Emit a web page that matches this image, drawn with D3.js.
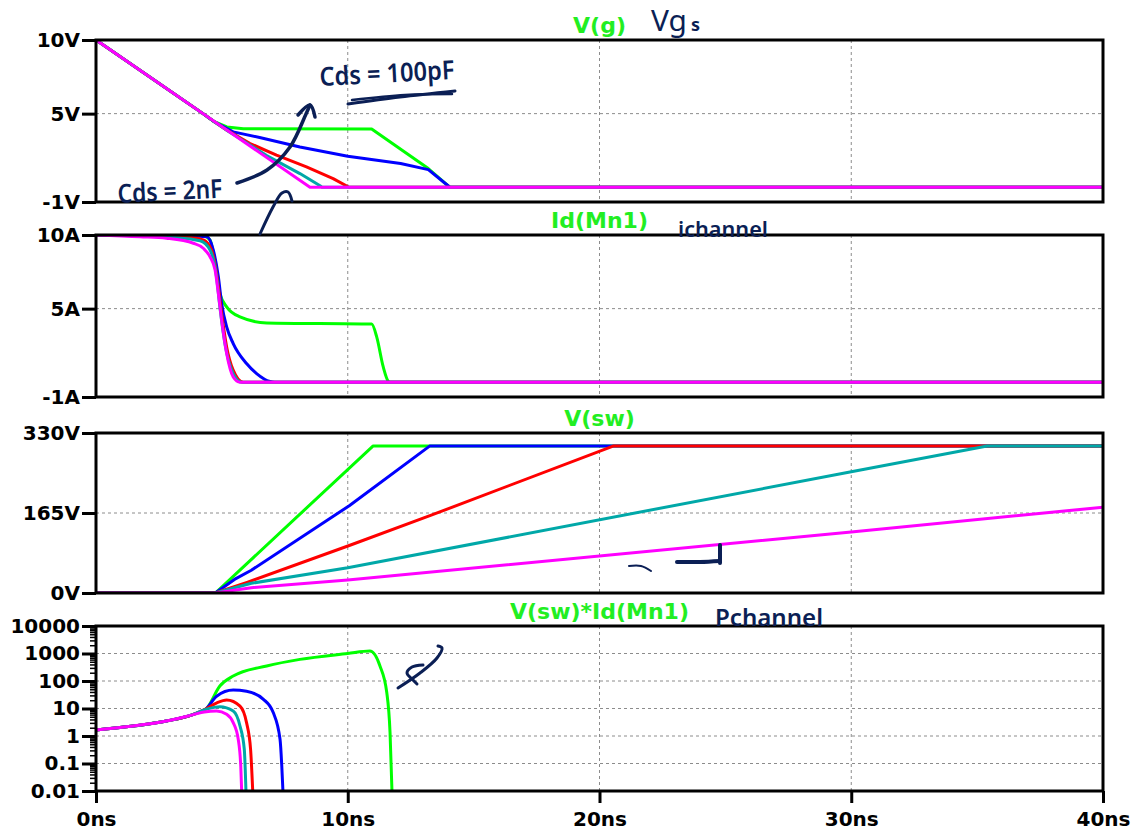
<!DOCTYPE html>
<html>
<head>
<meta charset="utf-8">
<script src="https://cdn.jsdelivr.net/npm/d3@7"></script>
<style>
  body { margin: 0; background: #fff; }
  text { font-family: "DejaVu Sans", Verdana, sans-serif; }
</style>
</head>
<body>
<script>
// traces, drawn in this order (magenta ends up on top)
const seriesKeys = ["green", "blue", "red", "cyan", "magenta"];
const seriesColors = ["#00ff00", "#0000ff", "#ff0000", "#00a8a8", "#ff00ff"];

const timeTicks = [0, 10, 20, 30, 40];
const timeLabels = ["0ns", "10ns", "20ns", "30ns", "40ns"];
const panelTitles = ["V(g)", "Id(Mn1)", "V(sw)", "V(sw)*Id(Mn1)"];

const vgTicks = [-1, 5, 10];
const vgLabels = ["-1V", "5V", "10V"];
const idTicks = [-1, 5, 10];
const idLabels = ["-1A", "5A", "10A"];
const swTicks = [0, 165, 330];
const swLabels = ["0V", "165V", "330V"];
const pTicks = [0.01, 0.1, 1, 10, 100, 1000, 10000];
const pLabels = ["0.01", "0.1", "1", "10", "100", "1000", "10000"];

// V(g) [ns, V]
const vgGreen = [[0,10],[4.25,5],[4.7,4.45],[5.2,4.1],[5.85,3.97],[10.95,3.95],[13.2,1.27],[14.06,0],[40,0]];
const vgBlue = [[0,10],[4.25,5],[4.7,4.45],[5.45,3.76],[6.5,3.38],[8.1,2.74],[10.0,2.11],[12.1,1.61],[13.2,1.2],[14.06,0],[40,0]];
const vgRed = [[0,10],[4.25,5],[4.7,4.45],[5.2,3.88],[6.12,2.97],[7.17,2.18],[8.36,1.38],[9.42,0.59],[10.05,0],[40,0]];
const vgCyan = [[0,10],[4.25,5],[4.7,4.45],[5.3,3.75],[6.78,2.15],[8.1,0.93],[8.9,0.1],[8.98,0],[40,0]];
const vgMagenta = [[0,10],[4.25,5],[8.5,0],[40,0]];

// Id(Mn1) [ns, A]
const idGreen = [[0,10],[3,9.98],[4.26,9.95],[4.53,9.66],[4.66,8.76],[4.79,7.39],[4.92,6.03],[5.19,5.12],[5.72,4.44],[6.78,4.03],[10.95,3.95],[11.15,3.08],[11.41,1.04],[11.61,0.07],[11.7,0],[40,0]];
const idBlue = [[0,10],[3,9.97],[4.4,9.88],[4.66,8.98],[4.86,7.16],[4.99,5.35],[5.19,3.76],[5.45,2.63],[5.98,1.27],[6.38,0.59],[6.91,0.05],[7.1,0],[40,0]];
const idRed = [[0,10],[2,9.95],[3.47,9.88],[4.26,9.66],[4.59,8.98],[4.79,7.39],[4.99,4.67],[5.19,2.4],[5.45,0.82],[5.85,0],[40,0]];
const idCyan = [[0,10],[1.5,9.95],[3.07,9.84],[4.13,9.61],[4.53,8.98],[4.77,7.39],[4.92,5.12],[5.12,2.63],[5.45,0.59],[5.79,0],[40,0]];
const idMagenta = [[0,10],[1.75,9.88],[2.8,9.78],[3.87,9.44],[4.26,9.1],[4.53,8.52],[4.73,7.62],[4.86,6.03],[4.99,4.22],[5.19,1.95],[5.45,0.36],[5.72,0],[40,0]];

// V(sw) [ns, V]
const swGreen = [[0,0],[4.74,0],[11.0,303],[40,303]];
const swBlue = [[0,0],[4.74,0],[5.5,28],[6.17,47],[10.06,180],[13.25,303],[40,303]];
const swRed = [[0,0],[4.74,0],[6,22],[10.06,98],[13.29,160],[20.54,303],[40,303]];
const swCyan = [[0,0],[4.74,0],[6.17,20],[10,52],[30,250],[35.4,303],[40,303]];
const swMagenta = [[0,0],[4.74,0],[6.17,11],[10,26.6],[30,126],[40,177]];

// V(sw)*Id(Mn1) [ns, W]
const pGreen = [[0,1.65],[1.48,2.31],[2.8,3.51],[3.87,6.15],[4.39,10],[4.92,65.8],[5.45,152],[6.78,352],[8.1,612],[10.0,1000],[10.88,1230],[11.28,352],[11.55,38],[11.68,1.33],[11.76,0.008]];
const pBlue = [[0,1.65],[1.48,2.31],[2.8,3.51],[3.87,6.15],[4.39,10],[4.79,28],[5.45,47],[5.98,42.4],[6.65,21.6],[7.04,7.1],[7.31,0.76],[7.43,0.008]];
const pRed = [[0,1.65],[1.48,2.31],[2.8,3.51],[3.87,6.15],[4.39,10],[4.8,16],[5.19,20.4],[5.72,12.3],[5.98,3.07],[6.14,0.33],[6.23,0.008]];
const pCyan = [[0,1.65],[1.48,2.31],[2.8,3.51],[3.87,6.15],[4.39,9.5],[4.92,11.7],[5.45,8.1],[5.72,2.31],[5.89,0.33],[5.96,0.008]];
const pMagenta = [[0,1.65],[1.48,2.31],[2.8,3.51],[3.87,6.0],[4.3,7.5],[4.79,8.1],[5.19,6.15],[5.45,3.07],[5.65,0.76],[5.75,0.081],[5.79,0.008]];

const width = 1132, height = 832;
const left = 96, right = 1103;
const labelFont = '"DejaVu Sans", Verdana, sans-serif';

const svg = d3.select("body").append("svg")
  .attr("width", width)
  .attr("height", height)
  .style("background", "#fff");

const x = d3.scaleLinear().domain([0, 40]).range([left, right]);

const panels = [
  { top: 40, bottom: 202, log: false, domain: [-1, 10], ticks: vgTicks, labels: vgLabels, grid: [5],
    data: [vgGreen, vgBlue, vgRed, vgCyan, vgMagenta], curve: d3.curveLinear },
  { top: 235, bottom: 397, log: false, domain: [-1, 10], ticks: idTicks, labels: idLabels, grid: [5],
    data: [idGreen, idBlue, idRed, idCyan, idMagenta], curve: d3.curveMonotoneX },
  { top: 433, bottom: 593, log: false, domain: [0, 330], ticks: swTicks, labels: swLabels, grid: [165],
    data: [swGreen, swBlue, swRed, swCyan, swMagenta], curve: d3.curveLinear },
  { top: 626, bottom: 791, log: true, domain: [0.01, 10000], ticks: pTicks, labels: pLabels, grid: [0.1, 1, 10, 100, 1000],
    data: [pGreen, pBlue, pRed, pCyan, pMagenta], curve: d3.curveMonotoneX }
];

panels.forEach((p, pi) => {
  const y = (p.log ? d3.scaleLog() : d3.scaleLinear()).domain(p.domain).range([p.bottom, p.top]);
  const g = svg.append("g");

  // grid
  g.selectAll(".hgrid").data(p.grid).enter().append("line")
    .attr("x1", left).attr("x2", right)
    .attr("y1", d => y(d)).attr("y2", d => y(d))
    .attr("stroke", "#8c8c8c").attr("stroke-width", 1).attr("stroke-dasharray", "3,3");
  g.selectAll(".vgrid").data([10, 20, 30]).enter().append("line")
    .attr("x1", d => x(d)).attr("x2", d => x(d))
    .attr("y1", p.top).attr("y2", p.bottom)
    .attr("stroke", "#8c8c8c").attr("stroke-width", 1).attr("stroke-dasharray", "3,3");

  // traces
  const clipId = "clip" + pi;
  svg.append("clipPath").attr("id", clipId).append("rect")
    .attr("x", left).attr("y", p.top).attr("width", right - left).attr("height", p.bottom - p.top);

  const line = d3.line()
    .x(d => x(d[0]))
    .y(d => y(Math.max(d[1], p.log ? 0.001 : -1e9)))
    .curve(p.curve);

  g.append("g").attr("clip-path", `url(#${clipId})`)
    .selectAll("path")
    .data(p.data)
    .enter()
    .append("path")
    .attr("d", d => line(d))
    .attr("fill", "none")
    .attr("stroke", (d, i) => seriesColors[i])
    .attr("stroke-width", 3)
    .attr("stroke-linejoin", "round");

  // frame
  g.append("rect")
    .attr("x", left).attr("y", p.top)
    .attr("width", right - left).attr("height", p.bottom - p.top)
    .attr("fill", "none").attr("stroke", "#000").attr("stroke-width", 3);

  // y axis
  const yAxis = d3.axisLeft(y)
    .tickValues(p.ticks)
    .tickFormat((d, i) => p.labels[i])
    .tickSize(14)
    .tickPadding(2);
  const ya = g.append("g").attr("transform", `translate(${left},0)`).call(yAxis);
  ya.select(".domain").remove();
  ya.selectAll("line").attr("stroke", "#000").attr("stroke-width", 3);
  ya.selectAll("text")
    .attr("fill", "#000")
    .style("font-family", labelFont)
    .style("font-weight", "bold")
    .style("font-size", "20px");

  if (p.log) {
    const minor = [];
    for (let e = -2; e < 4; e++) for (let k = 2; k <= 9; k++) minor.push(k * Math.pow(10, e));
    const ma = g.append("g").attr("transform", `translate(${left},0)`)
      .call(d3.axisLeft(y).tickValues(minor).tickFormat("").tickSize(6));
    ma.select(".domain").remove();
    ma.selectAll("line").attr("stroke", "#000").attr("stroke-width", 1.5);

    const xAxis = d3.axisBottom(x)
      .tickValues(timeTicks)
      .tickFormat((d, i) => timeLabels[i])
      .tickSize(12)
      .tickPadding(9);
    const xa = g.append("g").attr("transform", `translate(0,${p.bottom})`).call(xAxis);
    xa.select(".domain").remove();
    xa.selectAll("line").attr("stroke", "#000").attr("stroke-width", 3);
    xa.selectAll("text")
      .attr("fill", "#000")
      .style("font-family", labelFont)
      .style("font-weight", "bold")
      .style("font-size", "20px");
  }

  // title
  svg.append("text")
    .attr("x", (left + right) / 2)
    .attr("y", p.top - 7)
    .attr("text-anchor", "middle")
    .attr("fill", "#22ee22")
    .style("font-weight", "bold")
    .style("font-size", "22px")
    .text(panelTitles[pi]);
});

// hand-written notes on top of the screenshot
const ink = "#0b1f55";
const notes = svg.append("g").attr("fill", ink);
const hand = d3.line().curve(d3.curveCatmullRom);
const stroke = (pts, w) => svg.append("path").attr("d", hand(pts))
  .attr("fill", "none").attr("stroke", ink).attr("stroke-width", w || 3)
  .attr("stroke-linecap", "round").attr("stroke-linejoin", "round");

notes.append("text").attr("x", 320).attr("y", 86)
  .attr("transform", "rotate(-3 320 86)")
  .attr("textLength", 135).attr("lengthAdjust", "spacingAndGlyphs")
  .style("font-family", '"Noto Sans", sans-serif').style("font-size", "26px").style("font-weight", "600")
  .text("Cds = 100pF");
stroke([[348, 104], [400, 97], [455, 91]], 3);
stroke([[352, 100], [405, 95], [452, 94]], 2.5);

notes.append("text").attr("x", 118).attr("y", 203)
  .attr("transform", "rotate(-3 118 203)")
  .attr("textLength", 105).attr("lengthAdjust", "spacingAndGlyphs")
  .style("font-family", '"Noto Sans", sans-serif').style("font-size", "26px").style("font-weight", "600")
  .text("Cds = 2nF");
stroke([[237, 183], [267, 170], [290, 147], [306, 114], [310, 105]], 3.5);
stroke([[298, 115], [310, 105], [315, 117]], 3.5);
stroke([[260, 234], [273, 207], [282, 193], [288, 192], [292, 201]], 3);

notes.append("text").attr("x", 651).attr("y", 31)
  .attr("textLength", 36).attr("lengthAdjust", "spacingAndGlyphs")
  .style("font-family", '"Noto Sans", sans-serif').style("font-size", "29px")
  .text("Vg");
notes.append("text").attr("x", 691).attr("y", 31)
  .style("font-family", '"Noto Sans", sans-serif').style("font-size", "18px").style("font-weight", "bold")
  .text("s");

notes.append("text").attr("x", 678).attr("y", 237)
  .attr("textLength", 90).attr("lengthAdjust", "spacingAndGlyphs")
  .style("font-family", '"Noto Sans", sans-serif').style("font-size", "22px").style("font-weight", "600")
  .text("ichannel");

notes.append("text").attr("x", 715).attr("y", 626)
  .attr("textLength", 108).attr("lengthAdjust", "spacingAndGlyphs")
  .style("font-family", '"Noto Sans", sans-serif').style("font-size", "24px").style("font-weight", "600")
  .text("Pchannel");

stroke([[629, 566], [641, 566], [651, 571]], 2);
stroke([[677, 562], [700, 562], [720, 561]], 4);
stroke([[720, 545], [720, 554], [720, 563]], 4);

stroke([[398, 688], [420, 673], [437, 658], [442, 648], [438, 646]], 3);
stroke([[423, 665], [412, 667], [407, 673], [413, 680], [417, 684]], 3);
</script>
</body>
</html>
